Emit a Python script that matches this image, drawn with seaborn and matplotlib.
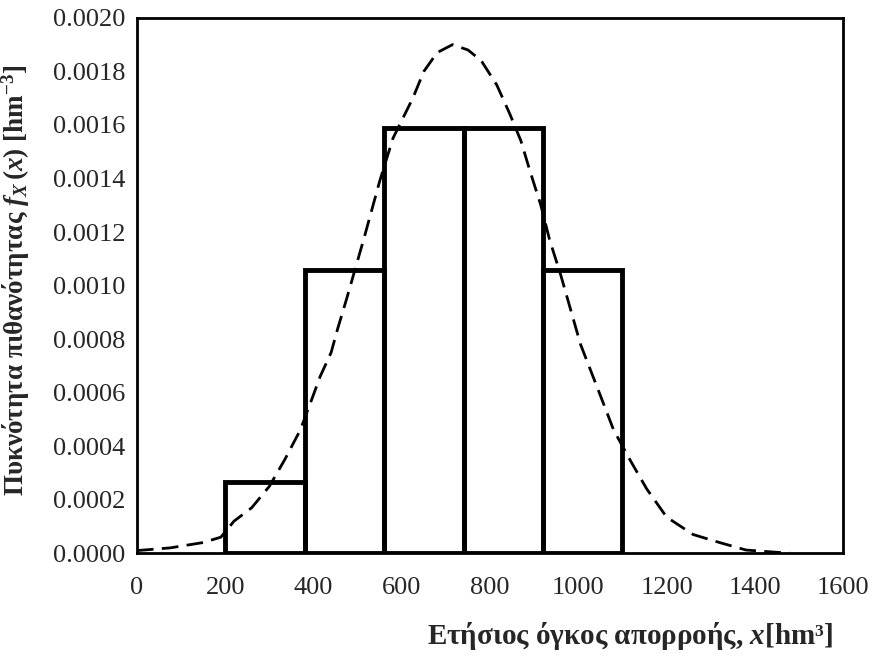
import numpy as np
import pandas as pd
import seaborn as sns
import matplotlib
matplotlib.use("Agg")
import matplotlib.pyplot as plt

sns.set_style("white")
plt.rcParams['font.family'] = ['Liberation Serif', 'DejaVu Serif']
plt.rcParams['mathtext.fontset'] = 'custom'
plt.rcParams['mathtext.rm'] = 'Liberation Serif:bold'
plt.rcParams['mathtext.it'] = 'Liberation Serif:bold:italic'
plt.rcParams['mathtext.bf'] = 'Liberation Serif:bold'

# histogram: class edges and counts (21 values)
bin_edges = [200, 380, 560, 740, 920, 1100]
bin_counts = [1, 4, 6, 6, 4]
bin_centers = [290, 470, 650, 830, 1010]

# fitted density curve
curve_x = [0, 75, 150, 190, 220, 260, 300, 335, 370, 395, 415, 440, 455, 475,
           515, 550, 580, 625, 650, 680, 715, 750, 780, 815, 845, 870, 890,
           915, 935, 960, 1005, 1045, 1080, 1120, 1155, 1200, 1260, 1320,
           1380, 1480]
curve_y = [0.00001, 0.00002, 0.00004, 0.00006, 0.00012, 0.00017, 0.00025,
           0.00035, 0.00046, 0.00057, 0.00066, 0.00075, 0.00084, 0.00095,
           0.00118, 0.00139, 0.00155, 0.00170, 0.00180, 0.00187, 0.00190,
           0.00188, 0.00184, 0.00175, 0.00164, 0.00154, 0.00143, 0.00130,
           0.00117, 0.00104, 0.00078, 0.00061, 0.00046, 0.00034, 0.00024,
           0.000135, 0.00007, 0.00004, 0.000012, 0.0]

x_ticks = [0, 200, 400, 600, 800, 1000, 1200, 1400, 1600]
y_ticks = [0.0, 0.0002, 0.0004, 0.0006, 0.0008, 0.0010, 0.0012, 0.0014,
           0.0016, 0.0018, 0.0020]

fig = plt.figure(figsize=(8.72, 6.61), dpi=100)
ax = fig.add_axes([0.157, 0.163, 0.810, 0.810])

df_hist = pd.DataFrame({'x': bin_centers, 'n': bin_counts})
sns.histplot(data=df_hist, x='x', weights='n', bins=bin_edges, stat='density',
             fill=False, element='bars', color='black', linewidth=3.5, ax=ax)

df_curve = pd.DataFrame({'x': curve_x, 'f': curve_y})
sns.lineplot(data=df_curve, x='x', y='f', color='black', linewidth=2,
             linestyle=(0, (6, 3)), ax=ax)

ax.set_xlim(0, 1600)
ax.set_ylim(0, 0.0020)
ax.set_xticks(x_ticks)
ax.set_xticklabels([str(t) for t in x_ticks])
ax.set_yticks(y_ticks)
ax.set_yticklabels(['%.4f' % t for t in y_ticks])
ax.tick_params(axis='both', labelsize=19, direction='inout', length=10,
               width=1.5, color='black')
ax.tick_params(axis='x', pad=12)
for s in ax.spines.values():
    s.set_linewidth(2)
    s.set_color('black')

ax.set_xlabel(r'Ετήσιος όγκος απορροής, $x$[hm³]', fontsize=21,
              fontweight='bold')
ax.xaxis.set_label_coords(0.698, -0.125)
ax.set_ylabel(r'Πυκνότητα πιθανότητας $f_X\,(x)$ [hm$^{-3}$]', fontsize=19.5,
              fontweight='bold')
ax.yaxis.set_label_coords(-0.148, 0.51)

fig.savefig('out.png', dpi=100)
